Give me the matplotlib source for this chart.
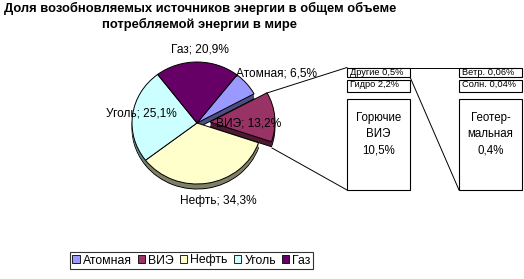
import matplotlib
matplotlib.use('Agg')
import matplotlib.pyplot as plt
from matplotlib.patches import Rectangle, Patch

plt.rcParams['font.family'] = ['Liberation Sans', 'DejaVu Sans']

# ---- data ----
title_lines = ['Доля возобновляемых источников энергии в общем объеме',
               'потребляемой энергии в мире']
labels = ['Атомная', 'ВИЭ', 'Нефть', 'Уголь', 'Газ']
values = [6.5, 13.2, 34.3, 25.1, 20.9]
colors = ['#9999FF', '#993366', '#FFFFCC', '#CCFFFF', '#660066']
side_colors = ['#4d4d80', '#4d1a33', '#808066', '#668080', '#330033']
explode = [0, 0.2, 0, 0, 0]

left_small = [('Другие', '0,5%'), ('Гидро', '2,2%')]
left_big = ('Горючие\nВИЭ', '10,5%')
right_small = [('Ветр.', '0,06%'), ('Солн.', '0,04%')]
right_big = ('Геотер-\nмальная', '0,4%')

W, H = 524, 279
fig = plt.figure(figsize=(W / 100, H / 100), dpi=100)
fig.patch.set_facecolor('white')

# ---- pie axes (pixel-based placement) ----
cx, cy, rx, ry = 197, 123, 65, 61
lim = 1.5
pax = fig.add_axes([(cx - rx * lim) / W, (H - cy - ry * lim) / H,
                    2 * rx * lim / W, 2 * ry * lim / H])
depth = 5 / ry
nsteps = 6
for i in range(nsteps, 0, -1):
    off = depth * i / nsteps
    pax.pie(values, colors=side_colors, startangle=52, counterclock=False,
            explode=explode, center=(0, -off),
            wedgeprops=dict(linewidth=0.7 if i == nsteps else 0,
                            edgecolor='black'))
pax.pie(values, colors=colors, startangle=52, counterclock=False,
        explode=explode, wedgeprops=dict(linewidth=0.7, edgecolor='black'))
pax.set_xlim(-lim, lim)
pax.set_ylim(-lim, lim)
pax.set_aspect('auto')
pax.axis('off')

# ---- overlay axes in pixel coords ----
ax = fig.add_axes([0, 0, 1, 1], zorder=5)
ax.set_xlim(0, W)
ax.set_ylim(H, 0)
ax.axis('off')
ax.patch.set_alpha(0)

for i, line in enumerate(title_lines):
    ax.text(200, 8 + 16 * i, line, ha='center', va='center',
            fontsize=9.4, fontweight='bold')

def fmt(name, v):
    return f'{name}; {v:.1f}%'.replace('.', ',')

label_pos = [(277, 74), (249, 123), (218, 201), (141, 113), (200, 50)]
for name, v, (x, y) in zip(labels, values, label_pos):
    ax.text(x, y, fmt(name, v), ha='center', va='center', fontsize=8.6)

# connector lines
lk = dict(color='black', lw=0.7)
ax.plot([267, 347], [93, 67.5], **lk)
ax.plot([272, 347], [148, 190], **lk)
ax.plot([410, 459], [67.5, 67.5], **lk)
ax.plot([410, 459], [77, 190], **lk)

def box(x0, x1, y0, y1):
    ax.add_patch(Rectangle((x0, y0), x1 - x0, y1 - y0, facecolor='white',
                           edgecolor='black', lw=0.8, zorder=3))

lx0, lx1 = 347, 410
rx0, rx1 = 459, 522
rows = [(67.5, 77.3), (79.5, 92)]
for (n, v), (y0, y1) in zip(left_small, rows):
    box(lx0, lx1, y0, y1)
    ax.text(lx0 + 3, y0 + 4.8, f'{n} {v}', fontsize=6.7, ha='left',
            va='center', zorder=4)
for (n, v), (y0, y1) in zip(right_small, rows):
    box(rx0, rx1, y0, y1)
    ax.text(rx0 + 3, y0 + 4.8, f'{n} {v}', fontsize=6.7, ha='left',
            va='center', zorder=4)
box(lx0, lx1, 99, 190)
ax.text((lx0 + lx1) / 2, 134, f'{left_big[0]}\n{left_big[1]}', fontsize=8.3,
        ha='center', va='center', linespacing=1.45, zorder=4)
box(rx0, rx1, 99, 190)
ax.text((rx0 + rx1) / 2, 134, f'{right_big[0]}\n{right_big[1]}', fontsize=8.3,
        ha='center', va='center', linespacing=1.45, zorder=4)

# legend
handles = [Patch(facecolor=c, edgecolor='black', lw=0.6) for c in colors]
leg = ax.legend(handles, labels, loc='center',
                bbox_to_anchor=(191.5 / W, 1 - 260.5 / H),
                bbox_transform=fig.transFigure, ncol=5, fontsize=8.8,
                frameon=True, fancybox=False, edgecolor='black',
                handlelength=0.6, handleheight=0.6, handletextpad=0.25,
                columnspacing=0.5, borderpad=0.2, borderaxespad=0)
leg.get_frame().set_linewidth(0.8)

fig.savefig('out.png', dpi=100, facecolor='white')
